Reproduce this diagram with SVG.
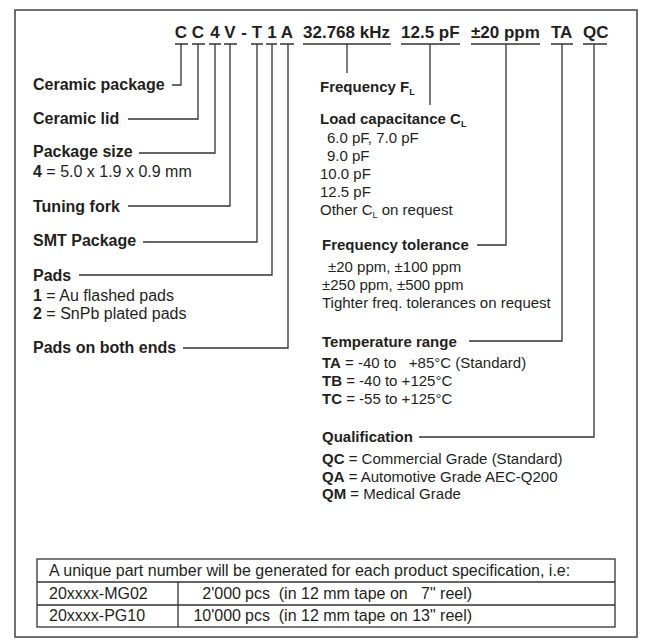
<svg xmlns="http://www.w3.org/2000/svg" width="655" height="643" viewBox="0 0 655 643">
<style>
text{font-family:"Liberation Sans",Arial,sans-serif;fill:#231f20}
.h{font-size:17px;font-weight:bold}
.lb{font-size:16px;font-weight:bold}
.lr{font-size:16px}
.rb{font-size:15px;font-weight:bold}
.rr{font-size:15px}
.sb{font-size:9px;font-weight:bold}
.sr{font-size:9px}
.t{font-size:16px}
.b{font-weight:bold}
.ln{fill:none;stroke:#333;stroke-width:1.3}
.frame{fill:#fff;stroke:#444;stroke-width:1.5}
</style>
<rect class="frame" x="15" y="10" width="622" height="627"/>
<g id="header">
<text class="h" text-anchor="middle" x="181" y="38">C</text>
<text class="h" text-anchor="middle" x="198" y="38">C</text>
<text class="h" text-anchor="middle" x="215" y="38">4</text>
<text class="h" text-anchor="middle" x="230" y="38">V</text>
<text class="h" text-anchor="middle" x="244" y="38">-</text>
<text class="h" text-anchor="middle" x="257" y="38">T</text>
<text class="h" text-anchor="middle" x="272" y="38">1</text>
<text class="h" text-anchor="middle" x="287" y="38">A</text>
<text class="h" x="303" y="38">32.768 kHz</text>
<text class="h" x="401" y="38">12.5 pF</text>
<text class="h" x="471" y="38">±20 ppm</text>
<text class="h" x="551" y="38">TA</text>
<text class="h" x="583" y="38">QC</text>
</g>
<g id="connectors">
<path class="ln" d="M175,44H188M192,44H205M209,44H221M224,44H237M251,44H263M266,44H277M280,44H294M303,44H391M401,44H460M471,44H540M551,44H573M583,44H607"/>
<path class="ln" d="M181,44V85H172"/>
<path class="ln" d="M198,44V119H128"/>
<path class="ln" d="M215,44V153H139"/>
<path class="ln" d="M230,44V206H128"/>
<path class="ln" d="M257,44V242H143"/>
<path class="ln" d="M272,44V275H79"/>
<path class="ln" d="M288,44V348H183"/>
<path class="ln" d="M347,44V73"/>
<path class="ln" d="M430,44V105"/>
<path class="ln" d="M506,44V245H477"/>
<path class="ln" d="M562,44V341H469"/>
<path class="ln" d="M594,44V437H419"/>
</g>
<g id="ceramic-package"><text class="lb" x="33" y="90">Ceramic package</text></g>
<g id="ceramic-lid"><text class="lb" x="33" y="124">Ceramic lid</text></g>
<g id="package-size">
<text class="lb" x="33" y="157">Package size</text>
<text class="lr" x="33" y="177"><tspan class="b">4</tspan> = 5.0 x 1.9 x 0.9 mm</text>
</g>
<g id="tuning-fork"><text class="lb" x="33" y="212">Tuning fork</text></g>
<g id="smt-package"><text class="lb" x="33" y="246">SMT Package</text></g>
<g id="pads">
<text class="lb" x="33" y="281">Pads</text>
<text class="lr" x="33" y="301"><tspan class="b">1</tspan> = Au flashed pads</text>
<text class="lr" x="33" y="319"><tspan class="b">2</tspan> = SnPb plated pads</text>
</g>
<g id="pads-both-ends"><text class="lb" x="33" y="353">Pads on both ends</text></g>
<g id="frequency">
<text class="rb" x="320" y="92">Frequency F<tspan class="sb" dy="3">L</tspan></text>
</g>
<g id="load-capacitance">
<text class="rb" x="320" y="124">Load capacitance C<tspan class="sb" dy="3">L</tspan></text>
<text class="rr" x="327" y="143">6.0 pF, 7.0 pF</text>
<text class="rr" x="327" y="161">9.0 pF</text>
<text class="rr" x="320" y="179">10.0 pF</text>
<text class="rr" x="320" y="197">12.5 pF</text>
<text class="rr" x="320" y="215">Other C<tspan class="sr" dy="3">L</tspan><tspan dy="-3"> on request</tspan></text>
</g>
<g id="frequency-tolerance">
<text class="rb" x="322" y="250">Frequency tolerance</text>
<text class="rr" x="328" y="272">±20 ppm, ±100 ppm</text>
<text class="rr" x="322" y="290">±250 ppm, ±500 ppm</text>
<text class="rr" x="322" y="308">Tighter freq. tolerances on request</text>
</g>
<g id="temperature-range">
<text class="rb" x="322" y="347">Temperature range</text>
<text class="rr" x="322" y="368" xml:space="preserve"><tspan class="b">TA</tspan> = -40 to   +85°C (Standard)</text>
<text class="rr" x="322" y="386"><tspan class="b">TB</tspan> = -40 to +125°C</text>
<text class="rr" x="322" y="404"><tspan class="b">TC</tspan> = -55 to +125°C</text>
</g>
<g id="qualification">
<text class="rb" x="322" y="442">Qualification</text>
<text class="rr" x="322" y="464"><tspan class="b">QC</tspan> = Commercial Grade (Standard)</text>
<text class="rr" x="322" y="482"><tspan class="b">QA</tspan> = Automotive Grade AEC-Q200</text>
<text class="rr" x="322" y="499"><tspan class="b">QM</tspan> = Medical Grade</text>
</g>
<g id="table">
<rect x="37" y="559" width="578" height="68" fill="none" stroke="#333" stroke-width="1.3"/>
<path class="ln" d="M37,582H615M37,605H615M178,582V627"/>
<text class="t" x="49" y="576">A unique part number will be generated for each product specification, i.e:</text>
<text class="t" x="49" y="599">20xxxx-MG02</text>
<text class="t" x="49" y="621">20xxxx-PG10</text>
<text class="t" x="241" y="599" text-anchor="end">2'000</text>
<text class="t" x="245" y="599" xml:space="preserve">pcs  (in 12 mm tape on   7" reel)</text>
<text class="t" x="241" y="621" text-anchor="end">10'000</text>
<text class="t" x="245" y="621" xml:space="preserve">pcs  (in 12 mm tape on 13" reel)</text>
</g>
</svg>
